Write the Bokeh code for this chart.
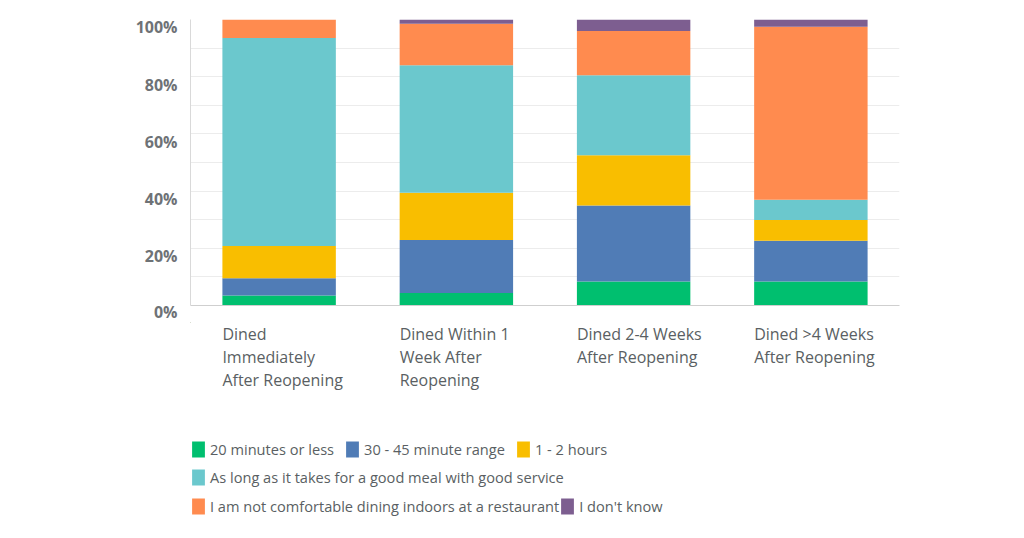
from bokeh.plotting import figure
from bokeh.layouts import column
from bokeh.models import (Range1d, FixedTicker, Legend, LegendItem,
                          ColumnDataSource)
from bokeh.core.properties import value
from bokeh.embed import file_html
from bokeh.resources import INLINE

categories = ["Dined\nImmediately\nAfter Reopening",
              "Dined Within 1\nWeek After\nReopening",
              "Dined 2-4 Weeks\nAfter Reopening",
              "Dined >4 Weeks\nAfter Reopening"]
series = ["20 minutes or less", "30 - 45 minute range", "1 - 2 hours",
          "As long as it takes for a good meal with good service",
          "I am not comfortable dining indoors at a restaurant", "I don't know"]
s_20min = [3.5, 4.4, 8.4, 8.4]
s_30_45 = [6.0, 18.5, 26.6, 14.2]
s_1_2h = [11.3, 16.5, 17.5, 7.3]
s_long = [72.7, 44.6, 28.0, 7.1]
s_notcomf = [6.5, 14.5, 15.5, 60.5]
s_dontknow = [0.0, 1.5, 4.0, 2.5]
colors = ["#00BF6F", "#507CB6", "#F9BE00", "#6BC8CD", "#FF8B4F", "#7D5E90"]
y_ticks = [0, 20, 40, 60, 80, 100]
y_minor = [10, 30, 50, 70, 90]

values = [s_20min, s_30_45, s_1_2h, s_long, s_notcomf, s_dontknow]
BAR_W = 0.64
FONT = "Open Sans"
TXT = "#5a5f63"

W = 1010
LEFT, RIGHT, TOP = 190, 111, 19
H1 = 322
H2 = 210
n = len(categories)

p = figure(width=W, height=H1, output_backend="svg", toolbar_location=None,
           x_range=Range1d(0, n), y_range=Range1d(0, 100),
           min_border_left=LEFT, min_border_right=RIGHT, min_border_top=TOP,
           min_border_bottom=H1 - 305)
p.outline_line_color = None

xs = [i + 0.5 for i in range(n)]
data = {"x": xs}
keys = []
for k, v in enumerate(values):
    key = f"s{k}"
    keys.append(key)
    data[key] = v
src = ColumnDataSource(data)
p.vbar_stack(keys, x="x", width=BAR_W, color=colors, source=src, line_width=0)

p.yaxis.ticker = FixedTicker(ticks=y_ticks, minor_ticks=y_minor)
p.yaxis.major_label_overrides = {t: f"\n{t}%" for t in y_ticks}
p.yaxis.major_tick_line_color = None
p.yaxis.major_tick_out = 0
p.yaxis.major_tick_in = 0
p.yaxis.minor_tick_line_color = None
p.yaxis.axis_line_color = "#d9d9d9"
p.yaxis.major_label_text_font = FONT
p.yaxis.major_label_text_font_size = "16px"
p.yaxis.major_label_text_font_style = "bold"
p.yaxis.major_label_text_color = "#6e7276"
p.yaxis.major_label_text_line_height = 0.72
p.yaxis.major_label_standoff = 9

p.xaxis.ticker = FixedTicker(ticks=[])
p.xaxis.major_label_text_font_size = "0px"
p.xaxis.axis_line_color = "#cfcfcf"
p.xaxis.major_tick_line_color = None
p.xaxis.minor_tick_line_color = None

p.xgrid.grid_line_color = None
p.ygrid.grid_line_color = "#ececec"
p.ygrid.minor_grid_line_color = "#ececec"

# lower panel: category labels (same x scale) and legend
p2 = figure(width=W, height=H2, output_backend="svg", toolbar_location=None,
            x_range=p.x_range, y_range=Range1d(H2 - 1, -1),
            x_axis_type=None, y_axis_type=None,
            min_border_left=LEFT, min_border_right=RIGHT, min_border_top=0,
            min_border_bottom=0)
p2.outline_line_color = None
p2.grid.grid_line_color = None

p2.text(x=[x - BAR_W / 2 for x in xs], y=[-1] * n, text=categories,
        text_align="left", text_baseline="top", text_font=value(FONT),
        text_font_size="16px", text_color=TXT, text_line_height=1.06)

swatches = [p2.vbar(x=[-100], top=[-1000], bottom=[-1000], width=0.5,
                    fill_color=c, line_color=None) for c in colors]
rows = [[0, 1, 2], [3], [4, 5]]
row_vy = [73, 45, 16]
row_spacing = [10, 10, -2]
for r, idxs in enumerate(rows):
    items = [LegendItem(label=series[k], renderers=[swatches[k]]) for k in idxs]
    lg = Legend(items=items, orientation="horizontal", location=(0, row_vy[r]),
                glyph_width=16, glyph_height=20, label_standoff=4,
                spacing=row_spacing[r], padding=0, margin=0,
                border_line_color=None, background_fill_alpha=0,
                label_text_font=FONT, label_text_font_size="14.6px",
                label_text_color=TXT, label_height=20)
    p2.add_layout(lg, "center")

open("out.html", "w").write(file_html(column(p, p2, spacing=0), INLINE))
